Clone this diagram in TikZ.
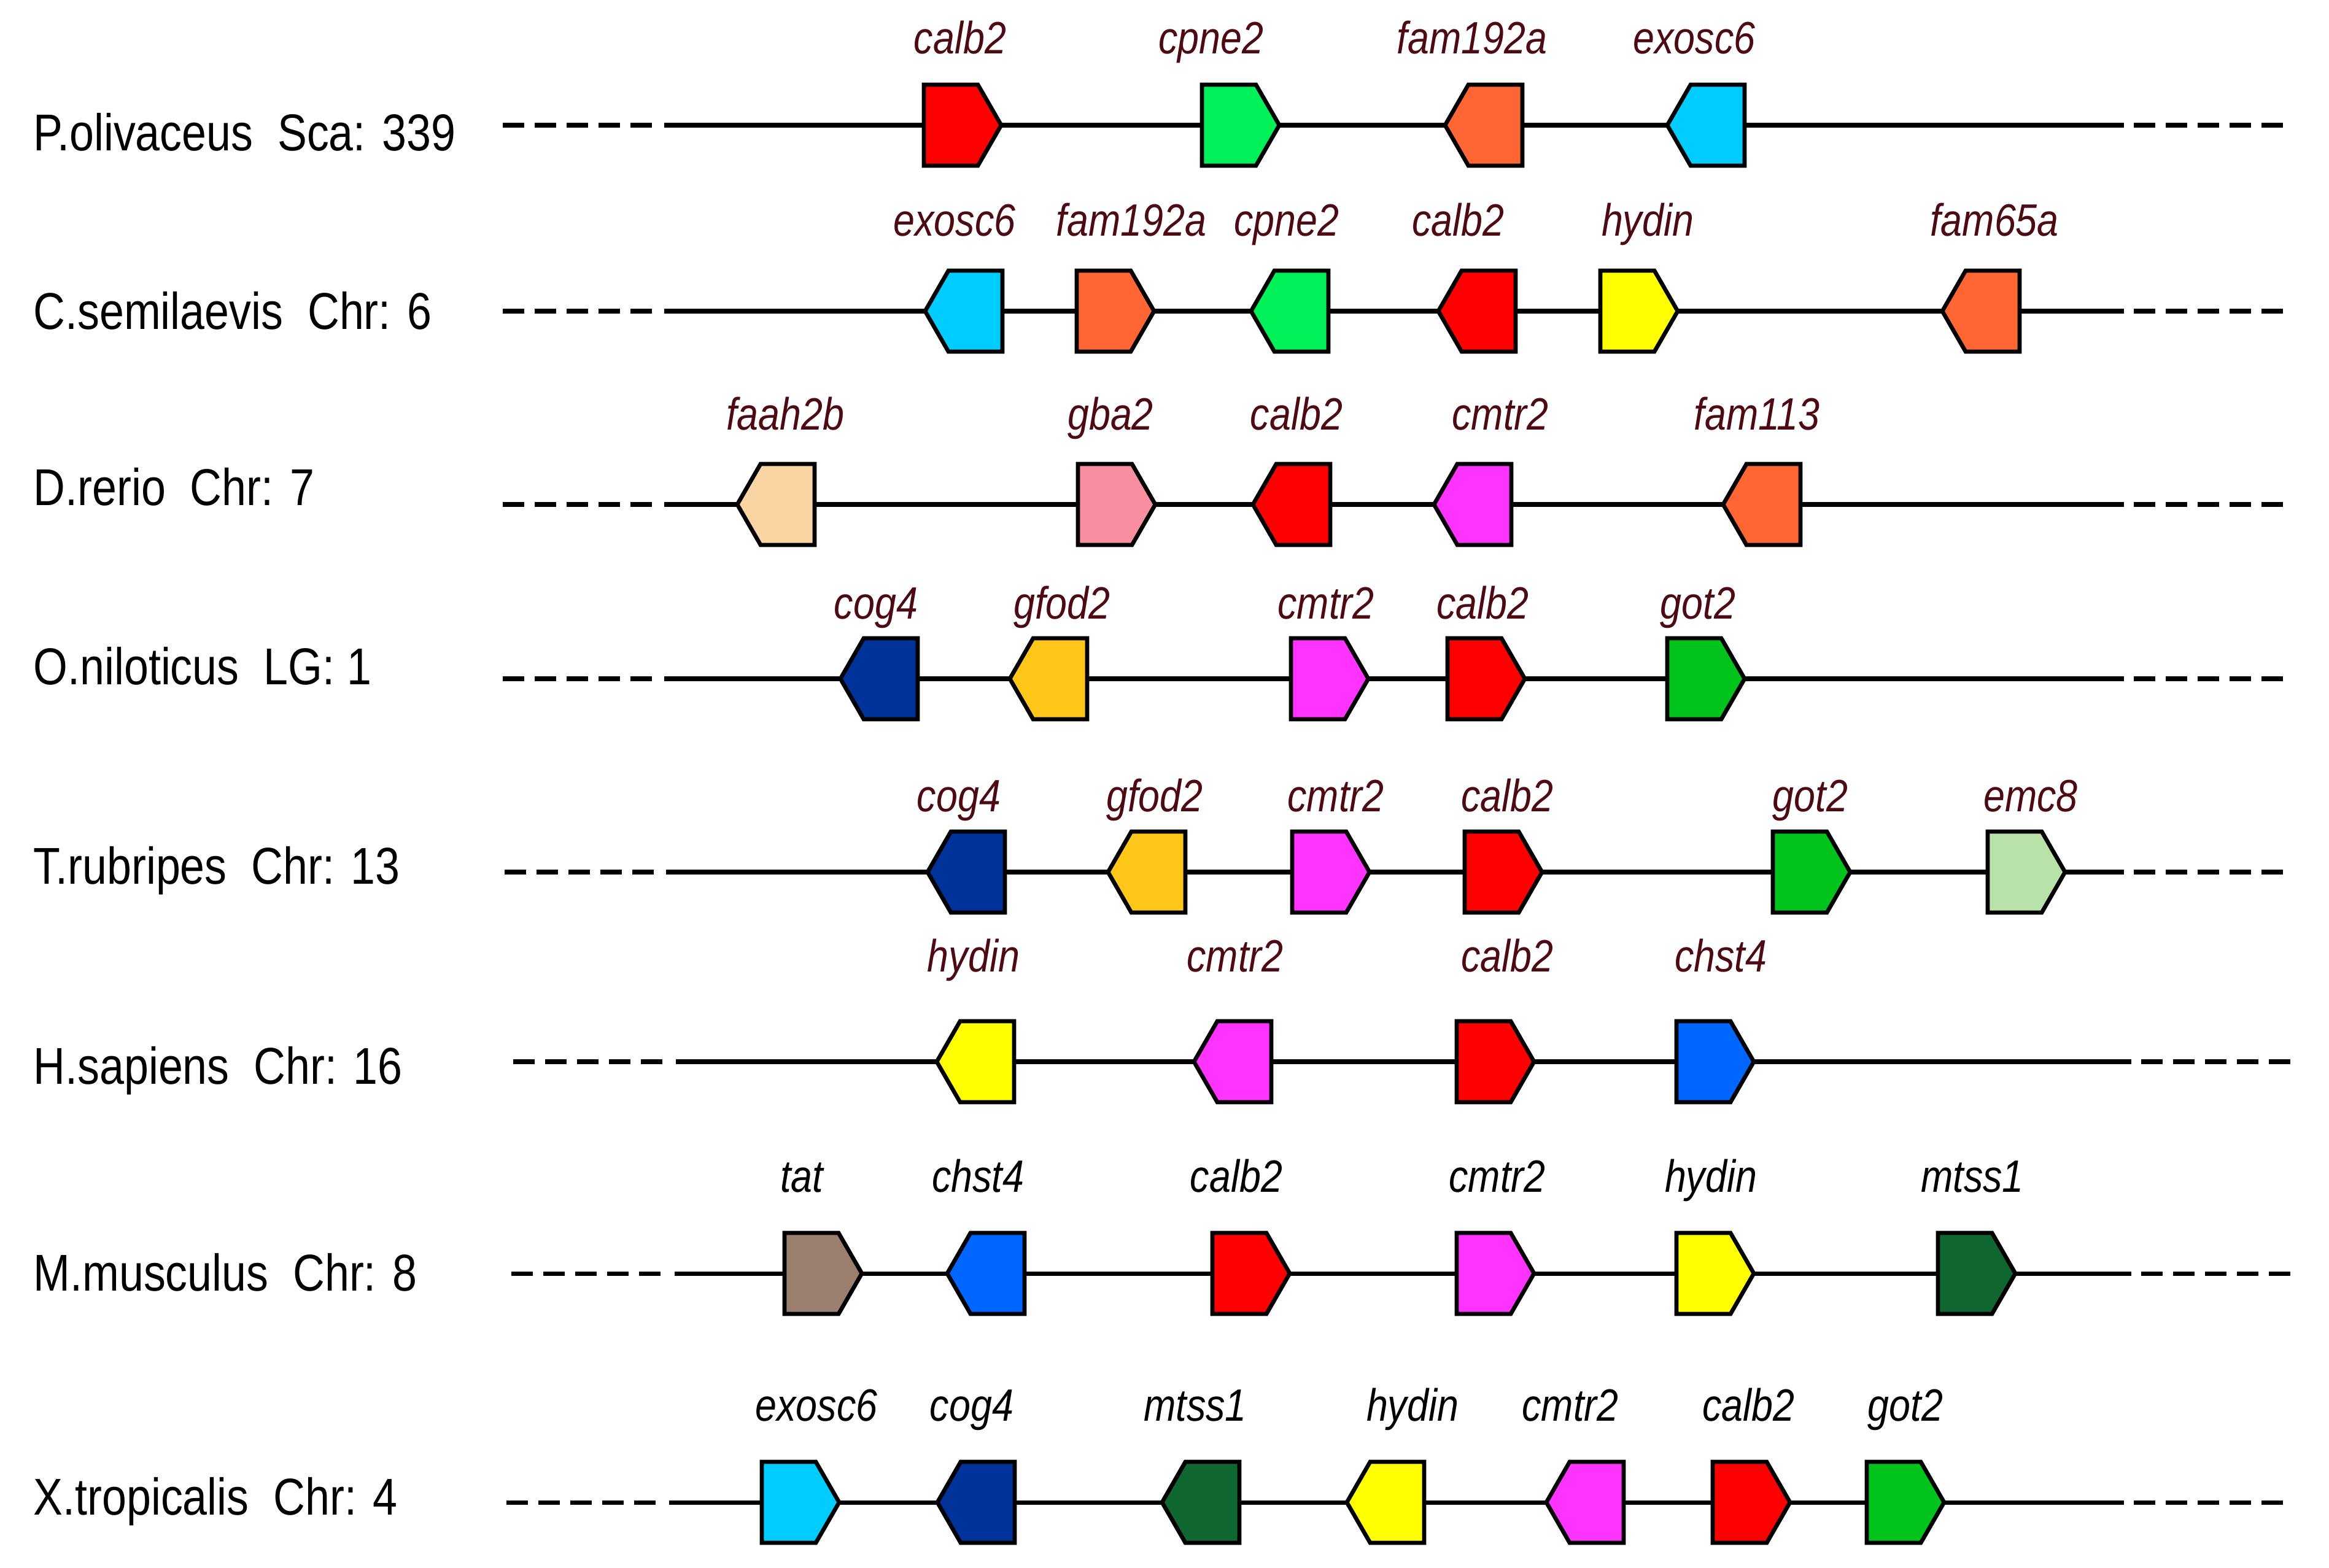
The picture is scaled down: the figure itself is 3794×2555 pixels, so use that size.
\documentclass[tikz,border=0pt]{standalone}
\usepackage{fontspec}
\setmainfont[FakeStretch=0.85]{Liberation Sans}
\definecolor{calbred}{HTML}{FF0000}
\definecolor{cpnegreen}{HTML}{00F05A}
\definecolor{famorange}{HTML}{FF6633}
\definecolor{exoscblue}{HTML}{00CCFF}
\definecolor{hydyellow}{HTML}{FFFF00}
\definecolor{faahpeach}{HTML}{F9D5A3}
\definecolor{gbapink}{HTML}{F78FA0}
\definecolor{cmtrpink}{HTML}{FF33FF}
\definecolor{cognavy}{HTML}{003399}
\definecolor{gfodgold}{HTML}{FFC61A}
\definecolor{gotgreen}{HTML}{00C41C}
\definecolor{emcgreen}{HTML}{B9E2A9}
\definecolor{chstblue}{HTML}{0066FF}
\definecolor{tatbrown}{HTML}{9A7F6F}
\definecolor{mtssgreen}{HTML}{0F6630}
\definecolor{labred}{HTML}{4D0A12}

\begin{document}
\begin{tikzpicture}[x=0.01cm, y=-0.01cm,
    chrom/.style={line width=2pt},
    chromdash/.style={line width=2pt, dash pattern=on 0.35cm off 0.17cm},
    genebox/.style={line width=1.9pt, line join=miter},
    genelab/.style={anchor=base, inner sep=0pt, text=labred, font=\fontsize{21}{24}\selectfont\itshape},
    species/.style={anchor=base west, inner sep=0pt, font=\fontsize{24}{28}\selectfont}]
    \useasboundingbox (0,0) rectangle (3794,2555);

    % chromosome lines
    \foreach \ry/\a/\b/\e in {204/819/1082/3460, 507/819/1082/3460, 822/819/1082/3460,
                              1106/819/1082/3460, 1421/822/1085/3460, 1730/836/1101/3472,
                              2075/833/1099/3472, 2448/825/1090/3460} {
        \draw[chromdash] (\a,\ry) -- (\a+243,\ry);
        \draw[chrom] (\b,\ry) -- (\e,\ry);
        \draw[chromdash] (\e+16,\ry) -- (\e+259,\ry);
    }

    % species
    \node[species] (sp1) at (54,246) {P.olivaceus\hspace{0.4cm}Sca: 339};
    \node[species] (sp2) at (54,537) {C.semilaevis\hspace{0.4cm}Chr: 6};
    \node[species] (sp3) at (54,823) {D.rerio\hspace{0.4cm}Chr: 7};
    \node[species] (sp4) at (54,1115) {O.niloticus\hspace{0.4cm}LG: 1};
    \node[species] (sp5) at (54,1440) {T.rubripes\hspace{0.4cm}Chr: 13};
    \node[species] (sp6) at (54,1766) {H.sapiens\hspace{0.4cm}Chr: 16};
    \node[species] (sp7) at (54,2103) {M.musculus\hspace{0.4cm}Chr: 8};
    \node[species] (sp8) at (54,2468) {X.tropicalis\hspace{0.4cm}Chr: 4};

    % genes: centre / direction / colour / label x / name
    \foreach \ry/\ly/\lc/\glist in {
        204/88/labred/{1567/1/calbred/1564/calb2, 2020/1/cpnegreen/1973/cpne2,
                       2418/-1/famorange/2398/fam192a, 2780/-1/exoscblue/2760/exosc6},
        507/385/labred/{1571/-1/exoscblue/1555/exosc6, 1816/1/famorange/1843/fam192a,
                        2102/-1/cpnegreen/2096/cpne2, 2407/-1/calbred/2375/calb2,
                        2669/1/hydyellow/2684/hydin, 3228/-1/famorange/3249/fam65a},
        822/701/labred/{1265/-1/faahpeach/1279/faah2b, 1818/1/gbapink/1809/gba2,
                        2105/-1/calbred/2112/calb2, 2400/-1/cmtrpink/2444/cmtr2,
                        2871/-1/famorange/2862/fam113},
        1106/1008/labred/{1433/-1/cognavy/1427/cog4, 1709/-1/gfodgold/1730/gfod2,
                          2165/1/cmtrpink/2160/cmtr2, 2420/1/calbred/2415/calb2,
                          2778/1/gotgreen/2766/got2},
        1421/1322/labred/{1575/-1/cognavy/1562/cog4, 1869/-1/gfodgold/1881/gfod2,
                          2167/1/cmtrpink/2176/cmtr2, 2448/1/calbred/2455/calb2,
                          2950/1/gotgreen/2949/got2, 3300/1/emcgreen/3308/emc8},
        1730/1583/labred/{1590/-1/hydyellow/1586/hydin, 2009/-1/cmtrpink/2012/cmtr2,
                          2435/1/calbred/2455/calb2, 2793/1/chstblue/2803/chst4},
        2075/1942/black/{1340/1/tatbrown/1306/tat, 1607/-1/chstblue/1593/chst4,
                         2037/1/calbred/2014/calb2, 2435/1/cmtrpink/2439/cmtr2,
                         2793/1/hydyellow/2787/hydin, 3219/1/mtssgreen/3213/mtss1},
        2448/2315/black/{1303/1/exoscblue/1330/exosc6, 1591/-1/cognavy/1583/cog4,
                         1957/-1/mtssgreen/1947/mtss1, 2258/-1/hydyellow/2301/hydin,
                         2583/-1/cmtrpink/2558/cmtr2, 2852/1/calbred/2848/calb2,
                         3103/1/gotgreen/3104/got2}} {
        \foreach \gx/\dir/\col/\lx/\gname in \glist {
            \filldraw[genebox, fill=\col] (\gx-62*\dir,\ry-66) -- (\gx+26*\dir,\ry-66)
                -- (\gx+64*\dir,\ry) -- (\gx+26*\dir,\ry+66) -- (\gx-62*\dir,\ry+66) -- cycle;
            \node[genelab, text=\lc] (\gname-\ry) at (\lx,\ly) {\gname};
        }
    }
\end{tikzpicture}
\end{document}
